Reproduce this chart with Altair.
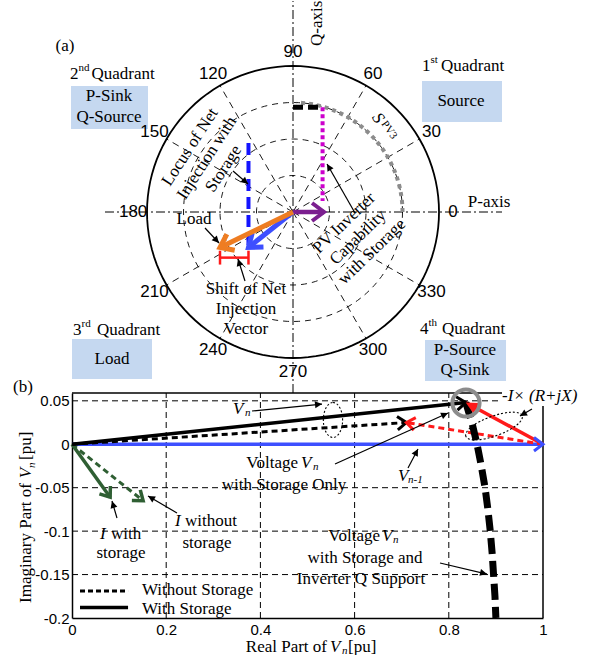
import math
import altair as alt
import pandas as pd

SERIF = "Liberation Serif"
SANS = "Liberation Sans"

# ---------------- panel (a): P-Q plane, in ring units ----------------
A_X = [-6.055, 6.849]
A_Y = [-4.767, 5.781]
A_PX = 36.5                      # pixels per ring unit on both axes

ring_radii = [1, 2, 3]
outer_radius = 4
spoke_deg = [30, 60, 120, 150, 210, 240, 300, 330]
angle_ticks = [0, 30, 60, 90, 120, 150, 180, 210, 240, 270, 300, 330]
angle_label_r = 4.38

pv_p = 0.85                      # PV active power injection
pv_cap_p, pv_cap_q, pv_cap_q_low = 0.81, 2.87, 0.30
spv3_r, spv3_end_deg = 3.0, 88
load_p, load_q = -2.0, -0.97     # load vector
net_p, net_q = -1.22, -0.97      # net injection with storage
locus_q_top = 1.89
shift_q, shift_cap = -1.25, 0.19

# ---------------- panel (b): voltage phasors ----------------
B_X = [0, 1]
B_Y = [-0.2, 0.059]
B_SX = 471 / 1.0
B_SY = 225 / 0.259

x_ticks = [0, 0.2, 0.4, 0.6, 0.8, 1]
y_ticks = [0.05, 0, -0.05, -0.1, -0.15, -0.2]
grid_x = [0.2, 0.4, 0.6, 0.8]
grid_y = [0.05, -0.05, -0.1, -0.15]

v_prev = (1.0, 0.0)
v_storage = (0.836, 0.048)
v_no_storage = (0.71, 0.025)
i_storage = (0.081, -0.061)
i_no_storage = (0.151, -0.065)
q_support_re = [0.836, 0.849, 0.860, 0.869, 0.877, 0.883, 0.888, 0.892, 0.895, 0.898, 0.900]
q_support_im = [0.048, 0.025, 0.0, -0.025, -0.05, -0.075, -0.1, -0.125, -0.15, -0.175, -0.2]

CHEVRON = "M-1,-0.75L0,0L-1,0.75"
TRIANGLE = "M-1,-0.5L0,0L-1,0.5Z"
ELLIPSE_TALL = "M0,-1A0.55,1 0 1,1 0,1A0.55,1 0 1,1 0,-1"
ELLIPSE_WIDE = "M-1,0A1,0.33 0 1,1 1,0A1,0.33 0 1,1 -1,0"
BOX_BLUE = "#c5d8f0"
LABEL_EXPR = "replace(format(datum.value, '~g'), '\u2212', '-')"


def ax_(f):
    return alt.X(f"{f}:Q", scale=alt.Scale(domain=A_X, nice=False, zero=False), axis=None)


def ay_(f):
    return alt.Y(f"{f}:Q", scale=alt.Scale(domain=A_Y, nice=False, zero=False), axis=None)


x_axis = alt.Axis(values=x_ticks, title=None, grid=False, ticks=False, domainColor="black",
                  domainWidth=1.5, labelFont=SANS, labelFontSize=15, labelColor="black",
                  labelPadding=4, labelFlush=False, labelOverlap=False, labelExpr=LABEL_EXPR)
y_axis = alt.Axis(values=y_ticks, title=None, grid=False, ticks=False, domainColor="black",
                  domainWidth=1.5, labelFont=SANS, labelFontSize=15, labelColor="black",
                  labelPadding=3, labelFlush=False, labelOverlap=False, labelExpr=LABEL_EXPR)


def bx(f):
    return alt.X(f"{f}:Q", scale=alt.Scale(domain=B_X, nice=False, zero=False), axis=x_axis)


def by(f):
    return alt.Y(f"{f}:Q", scale=alt.Scale(domain=B_Y, nice=False, zero=False), axis=y_axis)


def arc_rows(r, a0, a1, key, n=120):
    rows = []
    for k in range(n + 1):
        a = math.radians(a0 + (a1 - a0) * k / n)
        rows.append({"x": r * math.cos(a), "y": r * math.sin(a), "k": k, "g": key})
    return rows


def curve(rows, xe, ye, **mk):
    return alt.Chart(pd.DataFrame(rows)).mark_line(**mk).encode(
        x=xe("x"), y=ye("y"), detail="g:N", order="k:Q")


def segments(rows, xe, ye, **mk):
    df = pd.DataFrame(rows, columns=["x", "y", "x2", "y2"])
    return alt.Chart(df).mark_rule(**mk).encode(x=xe("x"), y=ye("y"), x2="x2:Q", y2="y2:Q")


def heads(rows, xe, ye, sx, sy, shape, size, color, filled, sw=1):
    data = []
    for x0, y0, x1, y1 in rows:
        a = math.degrees(math.atan2(-(y1 - y0) * sy, (x1 - x0) * sx)) % 360
        data.append({"x": x1, "y": y1, "a": a})
    mk = dict(shape=shape, size=size, opacity=1, filled=filled, color=color)
    if not filled:
        mk["strokeWidth"] = sw
    return alt.Chart(pd.DataFrame(data)).mark_point(**mk).encode(
        x=xe("x"), y=ye("y"), angle=alt.Angle("a:Q", scale=None))


def texts(rows, xe, ye, rotated=False, **mk):
    cols = ["x", "y", "t"] + (["a"] if rotated else [])
    df = pd.DataFrame(rows, columns=cols)
    enc = dict(x=xe("x"), y=ye("y"), text="t:N")
    if rotated:
        enc["angle"] = alt.Angle("a:Q", scale=None)
    mk.setdefault("color", "black")
    mk.setdefault("lineBreak", "\n")
    return alt.Chart(df).mark_text(**mk).encode(**enc)


def boxes(rows, xe, ye):
    df = pd.DataFrame(rows, columns=["x", "x2", "y", "y2"])
    return alt.Chart(df).mark_rect(color=BOX_BLUE).encode(x=xe("x"), x2="x2:Q", y=ye("y"), y2="y2:Q")


# ======================= panel (a) =======================
a_layers = []
a_layers.append(boxes([(-6.082, -3.973, 3.452, 2.274), (3.534, 5.726, 3.589, 2.466),
                       (-6.055, -3.863, -3.479, -4.575), (3.616, 5.836, -3.507, -4.630)], ax_, ay_))

ring_data = []
for r in ring_radii:
    ring_data += arc_rows(r, 0, 360, f"r{r}")
a_layers.append(curve(ring_data, ax_, ay_, color="black", strokeWidth=0.9, strokeDash=[6, 5]))
a_layers.append(curve(arc_rows(outer_radius, 0, 360, "outer"), ax_, ay_, color="black", strokeWidth=1.8))

spokes = [(0, 0, outer_radius * math.cos(math.radians(d)), outer_radius * math.sin(math.radians(d)))
          for d in spoke_deg]
a_layers.append(segments(spokes, ax_, ay_, color="black", strokeWidth=0.9, strokeDash=[7, 5]))
a_layers.append(segments([(-5.151, 0, 5.726, 0), (0, -4.959, 0, A_Y[1])], ax_, ay_,
                         color="black", strokeWidth=1, strokeDash=[9, 3, 2, 3]))

# PV inverter capability: S_PV3 arc, Q limit and P limit
a_layers.append(curve(arc_rows(spv3_r, 0, spv3_end_deg, "spv3", 60), ax_, ay_,
                      color="#8c8c8c", strokeWidth=4, strokeDash=[4, 4]))
a_layers.append(segments([(0, pv_cap_q, pv_cap_p, pv_cap_q)], ax_, ay_,
                         color="black", strokeWidth=5, strokeDash=[10, 5]))
a_layers.append(segments([(pv_cap_p, pv_cap_q, pv_cap_p, pv_cap_q_low)], ax_, ay_,
                         color="#cc00cc", strokeWidth=4, strokeDash=[4, 3]))
a_layers.append(segments([(net_p, locus_q_top, net_p, net_q)], ax_, ay_,
                         color="#1414ff", strokeWidth=4, strokeDash=[12, 6]))

# vectors
pv_vec = (0, 0, pv_p, 0)
net_vec = (0, 0, net_p, net_q)
load_vec = (0, 0, load_p, load_q)
a_layers.append(segments([pv_vec], ax_, ay_, color="#7b1f8f", strokeWidth=4.5))
a_layers.append(heads([pv_vec], ax_, ay_, 1, 1, CHEVRON, 576, "#7b1f8f", False, 4))
a_layers.append(segments([net_vec], ax_, ay_, color="#3d4fff", strokeWidth=5))
a_layers.append(heads([net_vec], ax_, ay_, 1, 1, CHEVRON, 576, "#3d4fff", False, 5))
a_layers.append(segments([load_vec], ax_, ay_, color="#ee7d22", strokeWidth=5))
a_layers.append(heads([load_vec], ax_, ay_, 1, 1, CHEVRON, 576, "#ee7d22", False, 5))

# shift of net injection bracket
a_layers.append(segments([(load_p, shift_q, net_p, shift_q),
                          (load_p, shift_q + shift_cap, load_p, shift_q - shift_cap),
                          (net_p, shift_q + shift_cap, net_p, shift_q - shift_cap)], ax_, ay_,
                         color="#ff1a1a", strokeWidth=2.5))

# annotation pointers
a_notes = [(-1.644, 1.123, -1.233, 0.767), (-2.411, -0.438, -2.027, -0.849),
           (-1.315, -1.890, -1.507, -1.288), (1.699, -0.027, 0.932, 1.315)]
a_layers.append(segments(a_notes, ax_, ay_, color="black", strokeWidth=1.2))
a_layers.append(heads(a_notes, ax_, ay_, 1, 1, TRIANGLE, 196, "black", True))

# angle labels
a_layers.append(texts([(angle_label_r * math.cos(math.radians(d)), angle_label_r * math.sin(math.radians(d)), str(d))
                       for d in angle_ticks], ax_, ay_, font=SANS, fontSize=17,
                      align="center", baseline="middle"))

a_layers.append(texts([(-6.247, 4.548, "(a)"), (5.370, 0.274, "P-axis"),
                       (-5.041, 3.178, "P-Sink"), (-5.041, 2.603, "Q-Source"),
                       (4.603, 3.041, "Source"), (-4.959, -4.027, "Load"),
                       (4.712, -3.781, "P-Source"), (4.712, -4.329, "Q-Sink"),
                       (-2.712, -0.192, "Load"),
                       (-1.288, -2.110, "Shift of Net\nInjection\nVector")],
                      ax_, ay_, font=SERIF, fontSize=17, align="center", baseline="middle",
                      lineHeight=20))
a_layers.append(texts([(-6.110, 3.781, "2"), (-5.520, 3.781, "Quadrant"),
                       (3.534, 4.0, "1"), (4.055, 4.0, "Quadrant"),
                       (-6.027, -3.233, "3"), (-5.370, -3.233, "Quadrant"),
                       (3.479, -3.205, "4"), (4.082, -3.205, "Quadrant")],
                      ax_, ay_, font=SERIF, fontSize=17, align="left", baseline="middle"))
a_layers.append(texts([(-5.877, 3.945, "nd"), (3.767, 4.164, "st"),
                       (-5.795, -3.068, "rd"), (3.712, -3.041, "th")],
                      ax_, ay_, font=SERIF, fontSize=11, align="left", baseline="middle"))
a_layers.append(texts([(0.658, 4.548, "Q-axis", 270)], ax_, ay_, rotated=True, font=SERIF,
                      fontSize=17, align="left", baseline="middle"))
a_layers.append(texts([(-2.822, 1.781, "Locus of Net\nInjection with\nStorage", 303),
                       (1.397, -0.301, "PV Inverter\nCapability\nwith Storage", 316)],
                      ax_, ay_, rotated=True, font=SERIF, fontSize=17, align="center",
                      baseline="middle", lineHeight=20))
a_layers.append(texts([(2.329, 2.575, "S", 55)], ax_, ay_, rotated=True, font=SERIF,
                      fontSize=17, fontStyle="italic", align="center", baseline="middle"))
a_layers.append(texts([(2.630, 2.247, "PV3", 55)], ax_, ay_, rotated=True, font=SERIF,
                      fontSize=11, align="center", baseline="middle"))

panel_a = alt.layer(*a_layers).properties(width=471, height=385)

# ======================= panel (b) =======================
b_layers = []
b_layers.append(segments([(g, B_Y[0], g, B_Y[1]) for g in grid_x] +
                         [(0, g, 0.91 if g > 0 else 1, g) for g in grid_y], bx, by,
                         color="black", strokeWidth=1, strokeDash=[6, 4]))
b_layers.append(segments([(0, B_Y[1], 0.913, B_Y[1]), (1, B_Y[0], 1, 0.044)], bx, by,
                         color="black", strokeWidth=1.5))

vec_prev = (0, 0) + v_prev
vec_vs = (0, 0) + v_storage
vec_vns = (0, 0) + v_no_storage
vec_is = (0, 0) + i_storage
vec_ins = (0, 0) + i_no_storage
vec_zs = v_prev + v_storage
vec_zns = v_prev + v_no_storage

b_layers.append(segments([vec_prev], bx, by, color="#3d4fff", strokeWidth=3.5))
b_layers.append(segments([vec_ins], bx, by, color="#2f5f33", strokeWidth=3, strokeDash=[6, 4]))
b_layers.append(segments([vec_is], bx, by, color="#2f5f33", strokeWidth=3.5))
b_layers.append(segments([vec_vns], bx, by, color="black", strokeWidth=3, strokeDash=[6, 4]))
b_layers.append(segments([vec_zns], bx, by, color="#ff1a1a", strokeWidth=3, strokeDash=[6, 4]))
b_layers.append(segments([vec_vs], bx, by, color="black", strokeWidth=3.5))
b_layers.append(segments([vec_zs], bx, by, color="#ff1a1a", strokeWidth=3.5))
b_layers.append(alt.Chart(pd.DataFrame({"x": q_support_re, "y": q_support_im, "k": range(len(q_support_re)), "g": "q"}))
                .mark_line(color="black", strokeWidth=7, strokeDash=[16, 7])
                .encode(x=bx("x"), y=by("y"), order="k:Q"))

b_layers.append(heads([vec_prev], bx, by, B_SX, B_SY, CHEVRON, 324, "#3d4fff", False, 3))
b_layers.append(heads([vec_is, vec_ins], bx, by, B_SX, B_SY, CHEVRON, 324, "#2f5f33", False, 3.5))
b_layers.append(heads([vec_vs, vec_vns], bx, by, B_SX, B_SY, CHEVRON, 324, "black", False, 3))
b_layers.append(heads([vec_zns], bx, by, B_SX, B_SY, CHEVRON, 289, "#ff1a1a", False, 3))
b_layers.append(heads([vec_zs], bx, by, B_SX, B_SY, TRIANGLE, 576, "#ff1a1a", True))

# highlight circle and dotted groupings
b_layers.append(alt.Chart(pd.DataFrame({"x": [0.8365], "y": [0.0475]}))
                .mark_point(shape="circle", size=740, filled=False, opacity=1, color="#8c8c8c", strokeWidth=4)
                .encode(x=bx("x"), y=by("y")))
b_layers.append(alt.Chart(pd.DataFrame({"x": [0.5541], "y": [0.0279]}))
                .mark_point(shape=ELLIPSE_TALL, size=1225, filled=False, opacity=1, color="black",
                            strokeWidth=1.1, strokeDash=[2, 2])
                .encode(x=bx("x"), y=by("y")))
b_layers.append(alt.Chart(pd.DataFrame({"x": [0.896], "y": [0.021], "a": [340]}))
                .mark_point(shape=ELLIPSE_WIDE, size=3600, filled=False, opacity=1, color="black",
                            strokeWidth=1.1, strokeDash=[2, 2])
                .encode(x=bx("x"), y=by("y"), angle=alt.Angle("a:Q", scale=None)))

b_notes = [(0.3822, 0.0383, 0.5308, 0.0463), (0.9766, 0.0406, 0.9512, 0.0325),
           (0.5584, -0.0227, 0.7983, 0.036), (0.7134, -0.0273, 0.7346, -0.0055),
           (0.7813, -0.1367, 0.8811, -0.1494), (0.0955, -0.0849, 0.0849, -0.0653),
           (0.2229, -0.0791, 0.1614, -0.0596)]
b_layers.append(segments(b_notes, bx, by, color="black", strokeWidth=1.2))
b_layers.append(heads(b_notes, bx, by, B_SX, B_SY, TRIANGLE, 196, "black", True))

# legend samples
b_layers.append(segments([(0.017, -0.1690, 0.119, -0.1690)], bx, by, color="black",
                         strokeWidth=3, strokeDash=[5, 3]))
b_layers.append(segments([(0.017, -0.1880, 0.119, -0.1880)], bx, by, color="black", strokeWidth=3.5))

b_layers.append(texts([(-0.104, 0.0659, "(b)"), (0.4501, -0.0469, "with Storage Only"),
                       (0.6221, -0.1309, "with Storage and"), (0.6136, -0.1551, "Inverter Q Support"),
                       (0.104, -0.1252, "storage"), (0.2866, -0.1137, "storage")],
                      bx, by, font=SERIF, fontSize=17, align="center", baseline="middle"))
b_layers.append(texts([(0.4798, -0.0216, "Voltage"), (0.6539, -0.1056, "Voltage")],
                      bx, by, font=SERIF, fontSize=17, align="right", baseline="middle"))
b_layers.append(texts([(0.0828, -0.1033, "with"), (0.2399, -0.0883, "without"),
                       (0.1486, -0.1678, "Without Storage"), (0.1486, -0.1891, "With Storage")],
                      bx, by, font=SERIF, fontSize=17, align="left", baseline="middle"))
b_layers.append(texts([(0.3418, 0.0406, "V"), (0.4862, -0.0216, "V"), (0.6921, -0.0365, "V"),
                       (0.6582, -0.1056, "V"), (0.0594, -0.1033, "I"), (0.2187, -0.0883, "I"),
                       (0.913, 0.0555, "-I\u00d7 (R+jX)")],
                      bx, by, font=SERIF, fontSize=17, fontStyle="italic", align="left", baseline="middle"))
b_layers.append(texts([(0.3673, 0.036, "n"), (0.5117, -0.0262, "n"), (0.7134, -0.0412, "n-1"),
                       (0.6815, -0.1102, "n")],
                      bx, by, font=SERIF, fontSize=11, fontStyle="italic", align="left", baseline="middle"))

# axis titles
b_layers.append(texts([(0.5414, -0.2391, "Real Part of")], bx, by, font=SERIF, fontSize=17,
                      align="right", baseline="alphabetic"))
b_layers.append(texts([(0.586, -0.2391, "[pu]")], bx, by, font=SERIF, fontSize=17,
                      align="left", baseline="alphabetic"))
b_layers.append(texts([(0.5478, -0.2391, "V")], bx, by, font=SERIF, fontSize=17, fontStyle="italic",
                      align="left", baseline="alphabetic"))
b_layers.append(texts([(0.5732, -0.2414, "n")], bx, by, font=SERIF, fontSize=11, fontStyle="italic",
                      align="left", baseline="alphabetic"))
b_layers.append(texts([(-0.087, -0.0446, "Imaginary Part of", 270)], bx, by, rotated=True, font=SERIF,
                      fontSize=17, align="right", baseline="alphabetic"))
b_layers.append(texts([(-0.087, -0.0181, "[pu]", 270)], bx, by, rotated=True, font=SERIF,
                      fontSize=17, align="left", baseline="alphabetic"))
b_layers.append(texts([(-0.087, -0.039, "V", 270)], bx, by, rotated=True, font=SERIF,
                      fontSize=17, fontStyle="italic", align="left", baseline="alphabetic"))
b_layers.append(texts([(-0.0786, -0.0273, "n", 270)], bx, by, rotated=True, font=SERIF,
                      fontSize=11, fontStyle="italic", align="left", baseline="alphabetic"))

panel_b = alt.layer(*b_layers).properties(width=471, height=225)

chart = (
    alt.vconcat(panel_a, panel_b, spacing=7, bounds="flush")
    .properties(padding={"left": 13, "top": 0, "right": 0, "bottom": 0})
    .configure_view(stroke=None)
)

chart.save("out.html", embed_options={"renderer": "svg", "actions": False})
